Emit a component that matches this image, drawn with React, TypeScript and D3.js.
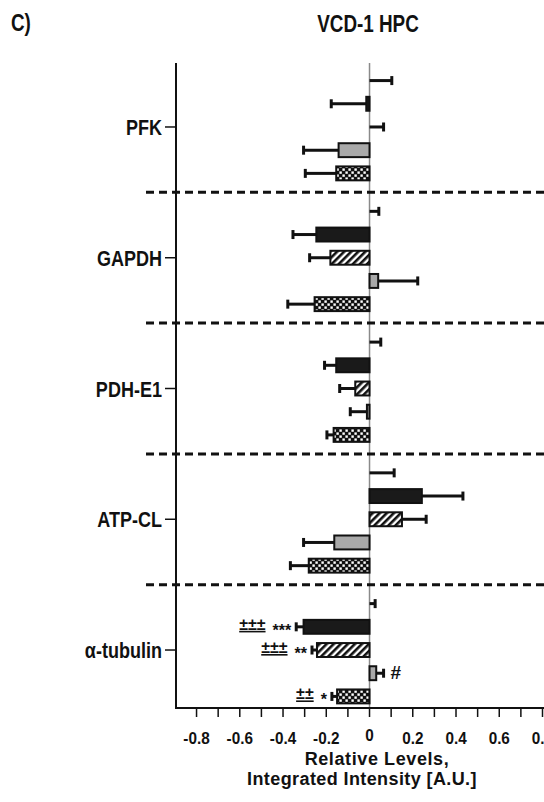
import React from "react";
import * as d3 from "d3";

// groups on the y axis, top to bottom
const categories = ["PFK", "GAPDH", "PDH-E1", "ATP-CL", "α-tubulin"];
const seriesKeys = ["s1", "s2", "s3", "s4", "s5"];

// mean values per series, one entry per category
const s1Values = [0, 0, 0, 0, 0];
const s2Values = [-0.015, -0.246, -0.154, 0.242, -0.305];
const s3Values = [0, -0.181, -0.066, 0.15, -0.243];
const s4Values = [-0.143, 0.04, -0.012, -0.163, 0.031];
const s5Values = [-0.154, -0.254, -0.166, -0.281, -0.15];

// one-sided error bars (SEM)
const s1Errors = [0.103, 0.043, 0.052, 0.114, 0.026];
const s2Errors = [0.162, 0.108, 0.054, 0.19, 0.034];
const s3Errors = [0.065, 0.096, 0.072, 0.112, 0.023];
const s4Errors = [0.162, 0.183, 0.077, 0.142, 0.034];
const s5Errors = [0.143, 0.124, 0.031, 0.085, 0.024];

const tickValues = [-0.8, -0.6, -0.4, -0.2, 0, 0.2, 0.4, 0.6, 0.8];
const tickLabels = ["-0.8", "-0.6", "-0.4", "-0.2", "0", "0.2", "0.4", "0.6", "0.8"];
const minorTicks = d3.range(-8, 9).map((i) => i / 10);

const annotations = [
  { cat: "α-tubulin", key: "s2", stars: "***", daggers: "±±±", hash: "" },
  { cat: "α-tubulin", key: "s3", stars: "**", daggers: "±±±", hash: "" },
  { cat: "α-tubulin", key: "s4", stars: "", daggers: "", hash: "#" },
  { cat: "α-tubulin", key: "s5", stars: "*", daggers: "±±", hash: "" },
];

const valuesByKey: Record<string, number[]> = {
  s1: s1Values, s2: s2Values, s3: s3Values, s4: s4Values, s5: s5Values,
};
const errorsByKey: Record<string, number[]> = {
  s1: s1Errors, s2: s2Errors, s3: s3Errors, s4: s4Errors, s5: s5Errors,
};
const fills: Record<string, string> = {
  s1: "#ffffff",
  s2: "#1a1a1a",
  s3: "url(#hatch)",
  s4: "#a9a9a9",
  s5: "url(#checker)",
};

const W = 544;
const H = 802;
const sans = "'Liberation Sans', Arial, sans-serif";

// condensed bold text: no narrow face installed, so squeeze horizontally
function Narrow({ x, y, size, anchor = "start", children, squeeze = 0.82 }: any) {
  return (
    <text
      transform={`translate(${x},${y}) scale(${squeeze},1)`}
      textAnchor={anchor}
      fontFamily={sans}
      fontWeight="bold"
      fontSize={size}
      fill="#111"
    >
      {children}
    </text>
  );
}

export default function App() {
  const x = d3.scaleLinear().domain([-0.895, 0.8]).range([176, 542.5]);
  const y = d3.scaleBand().domain(categories).range([61.6, 715.4]).padding(0);
  const inner = d3
    .scaleBand()
    .domain(seriesKeys)
    .range([-58, 58])
    .paddingInner(0.4)
    .paddingOuter(0.2);

  const axisTop = 63;
  const axisBottom = 708;
  const x0 = x(0);

  const rows = categories.flatMap((cat, ci) =>
    seriesKeys.map((key) => {
      const v = valuesByKey[key][ci];
      const e = errorsByKey[key][ci];
      const dir = v < 0 ? -1 : 1;
      const cy = (y(cat) as number) + y.bandwidth() / 2 + (inner(key) as number) + inner.bandwidth() / 2;
      return { cat, key, v, e, dir, cy, errEnd: x(v + dir * e) };
    })
  );

  const separators = categories.slice(1).map((c) => y(c) as number);

  return (
    <svg
      width={W}
      height={H}
      style={{ position: "absolute", left: 0, top: 0, display: "block", background: "#fff" }}
    >
      <defs>
        <pattern id="hatch" width={5} height={5} patternUnits="userSpaceOnUse" patternTransform="rotate(45)">
          <rect width={5} height={5} fill="#fff" />
          <rect width={2.6} height={5} fill="#111" />
        </pattern>
        <pattern id="checker" width={6} height={6} patternUnits="userSpaceOnUse">
          <rect width={6} height={6} fill="#111" />
          <rect x={0.4} y={0.4} width={2.4} height={2.4} fill="#fff" />
          <rect x={3.4} y={3.4} width={2.4} height={2.4} fill="#fff" />
        </pattern>
      </defs>

      <Narrow x={11} y={31} size={23}>C)</Narrow>
      <Narrow x={368} y={32} size={23} anchor="middle">VCD-1 HPC</Narrow>

      {/* zero line */}
      <line x1={x0} x2={x0} y1={axisTop} y2={axisBottom} stroke="#8a8a8a" strokeWidth={1.5} />

      {/* dashed group separators */}
      {separators.map((sy, i) => (
        <line key={i} x1={146} x2={W} y1={sy} y2={sy} stroke="#111" strokeWidth={3} strokeDasharray="8 5" />
      ))}

      {/* bars */}
      {rows.map((r, i) => {
        const bx = Math.min(x(r.v), x0);
        const bw = Math.abs(x(r.v) - x0);
        const h = inner.bandwidth();
        return (
          <g key={i}>
            <line x1={x(r.v)} x2={r.errEnd} y1={r.cy} y2={r.cy} stroke="#111" strokeWidth={3} />
            <line x1={r.errEnd} x2={r.errEnd} y1={r.cy - 4.5} y2={r.cy + 4.5} stroke="#111" strokeWidth={3} />
            {r.v !== 0 && (
              <rect
                x={bx}
                y={r.cy - h / 2}
                width={Math.max(bw, 0.5)}
                height={h}
                fill={fills[r.key]}
                stroke="#111"
                strokeWidth={2}
              />
            )}
          </g>
        );
      })}

      {/* significance marks */}
      {annotations.map((a, i) => {
        const r = rows.find((d) => d.cat === a.cat && d.key === a.key)!;
        if (a.hash) {
          return (
            <text key={i} x={r.errEnd + 7} y={r.cy + 6} fontFamily={sans} fontWeight="bold" fontSize={19} fill="#111">
              {a.hash}
            </text>
          );
        }
        const starEnd = r.errEnd - 5;
        const starW = a.stars.length * 0.389 * 16;
        return (
          <g key={i}>
            <text x={starEnd} y={r.cy + 9} textAnchor="end" fontFamily={sans} fontWeight="bold" fontSize={16} fill="#111">
              {a.stars}
            </text>
            <text
              x={starEnd - starW - 7}
              y={r.cy + 3}
              textAnchor="end"
              fontFamily={sans}
              fontWeight="bold"
              fontSize={16}
              fill="#111"
              textDecoration="underline"
            >
              {a.daggers}
            </text>
          </g>
        );
      })}

      {/* y axis */}
      <line x1={176} x2={176} y1={axisTop} y2={axisBottom + 1} stroke="#111" strokeWidth={2} />
      {categories.map((c) => {
        const cy = (y(c) as number) + y.bandwidth() / 2;
        return (
          <g key={c}>
            <line x1={165} x2={176} y1={cy} y2={cy} stroke="#111" strokeWidth={1.5} />
            <Narrow x={162} y={cy + 8} size={22} anchor="end">{c}</Narrow>
          </g>
        );
      })}

      {/* x axis */}
      <line x1={175} x2={W} y1={axisBottom} y2={axisBottom} stroke="#111" strokeWidth={2} />
      {minorTicks.map((t) => (
        <line key={t} x1={x(t)} x2={x(t)} y1={axisBottom} y2={axisBottom + 9} stroke="#111" strokeWidth={1.5} />
      ))}
      {tickValues.map((t, i) => (
        <Narrow key={t} x={x(t)} y={t === 0 ? 741 : 744} size={17} anchor="middle" squeeze={0.9}>
          {tickLabels[i]}
        </Narrow>
      ))}
      <text x={377} y={765} textAnchor="middle" fontFamily={sans} fontWeight="bold" fontSize={18} letterSpacing={0.6} fill="#111">
        Relative Levels,
      </text>
      <text x={362} y={785} textAnchor="middle" fontFamily={sans} fontWeight="bold" fontSize={18} letterSpacing={0.4} fill="#111">
        Integrated Intensity [A.U.]
      </text>
    </svg>
  );
}
